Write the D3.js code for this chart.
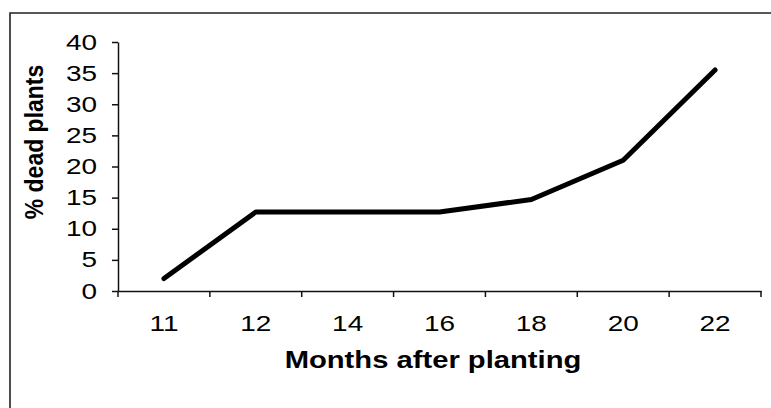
<!DOCTYPE html>
<html>
<head>
<meta charset="utf-8">
<script src="https://cdn.jsdelivr.net/npm/d3@7"></script>
<style>
  html, body { margin: 0; padding: 0; background: #fff; }
  svg { display: block; }
</style>
</head>
<body>
<div id="chart"></div>
<script>
const months = ['11', '12', '14', '16', '18', '20', '22'];
const deadPct = [2, 12.7, 12.7, 12.7, 14.7, 21, 35.5];
const yTicks = [0, 5, 10, 15, 20, 25, 30, 35, 40];

const WIDTH = 771;
const HEIGHT = 408;
const margin = {left: 118, right: 10, top: 42, bottom: 117};
// the scanned figure is a bit wider than tall, so text gets stretched sideways
const STRETCH = 1.27;

const svg = d3.select('#chart').append('svg')
    .attr('width', WIDTH)
    .attr('height', HEIGHT)
    .style('font-family', 'Arial, "Liberation Sans", Helvetica, sans-serif');

// scanned frame: only top and left edges survive
svg.append('path')
    .attr('d', `M10,${HEIGHT} L10,13 L${WIDTH},13`)
    .attr('fill', 'none')
    .attr('stroke', '#222')
    .attr('stroke-width', 1.6);

const x = d3.scaleBand()
    .domain(months)
    .range([margin.left, 761]);

const y = d3.scaleLinear()
    .domain([0, 40])
    .range([291, margin.top]);

// y axis
const yAxis = svg.append('g')
    .attr('transform', `translate(${margin.left},0)`)
    .call(d3.axisLeft(y).tickValues(yTicks).tickSize(6).tickPadding(10.5).tickSizeOuter(0));
yAxis.select('.domain').attr('stroke', '#111').attr('stroke-width', 1.5);
yAxis.selectAll('.tick line').attr('stroke', '#111').attr('stroke-width', 1.5);
yAxis.selectAll('text')
    .attr('fill', '#000')
    .attr('transform', `scale(${STRETCH},1)`)
    .style('font-size', '22px');

// x axis, ticks sit on the band edges
const xAxis = svg.append('g')
    .attr('transform', `translate(0,${y(0)})`)
    .call(d3.axisBottom(x).tickSize(0).tickPadding(24));
xAxis.select('.domain').attr('stroke', '#111').attr('stroke-width', 1.5);
xAxis.selectAll('text')
    .attr('fill', '#000')
    .attr('transform', `scale(${STRETCH},1)`)
    .style('font-size', '22px');

const edges = months.map(m => x(m)).concat([x.range()[1]]);
xAxis.selectAll('.edge')
    .data(edges)
    .join('line')
    .attr('class', 'edge')
    .attr('x1', d => d)
    .attr('x2', d => d)
    .attr('y1', 0)
    .attr('y2', 6)
    .attr('stroke', '#111')
    .attr('stroke-width', 1.5);

// the series
const line = d3.line()
    .x((d, i) => x(months[i]) + x.bandwidth() / 2)
    .y(d => y(d));

svg.append('path')
    .datum(deadPct)
    .attr('fill', 'none')
    .attr('stroke', '#000')
    .attr('stroke-width', 5)
    .attr('stroke-linejoin', 'round')
    .attr('stroke-linecap', 'round')
    .attr('d', line);

// axis titles
svg.append('text')
    .attr('transform', `translate(433,368) scale(${STRETCH},1)`)
    .attr('text-anchor', 'middle')
    .style('font-size', '23px')
    .style('font-weight', 'bold')
    .text('Months after planting');

svg.append('text')
    .attr('transform', 'translate(43,142) rotate(-90) scale(1,1.15)')
    .attr('text-anchor', 'middle')
    .style('font-size', '23px')
    .style('font-weight', 'bold')
    .text('% dead plants');
</script>
</body>
</html>
